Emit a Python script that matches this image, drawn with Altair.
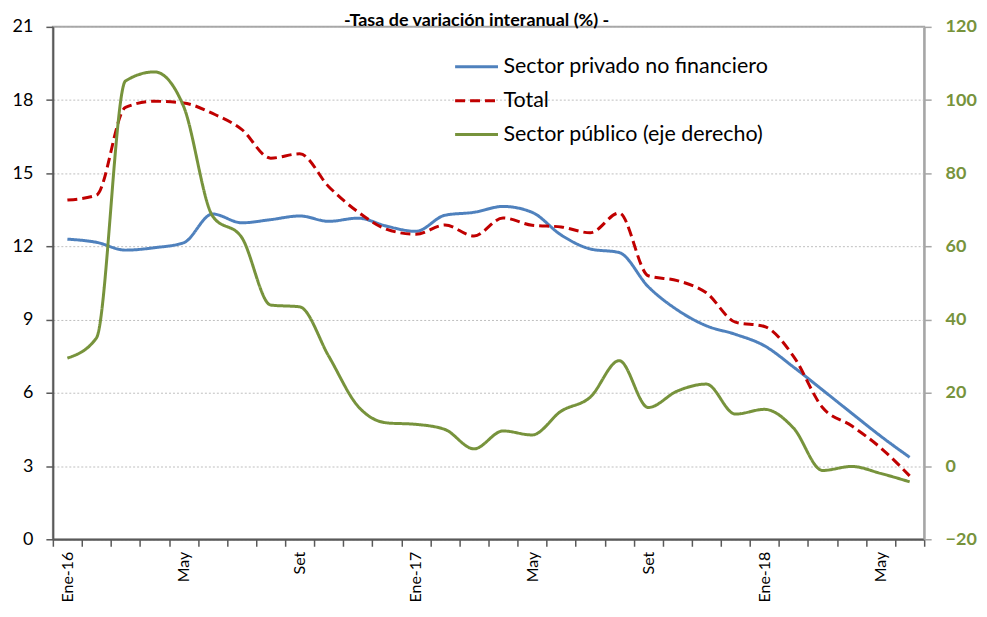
import json
import altair as alt
import pandas as pd

# ---- data ----
meses = [
    "Ene-16", "Feb-16", "Mar-16", "Abr-16", "May-16", "Jun-16", "Jul-16", "Ago-16", "Set-16", "Oct-16", "Nov-16", "Dic-16",
    "Ene-17", "Feb-17", "Mar-17", "Abr-17", "May-17", "Jun-17", "Jul-17", "Ago-17", "Set-17", "Oct-17", "Nov-17", "Dic-17",
    "Ene-18", "Feb-18", "Mar-18", "Abr-18", "May-18", "Jun-18",
]
etiquetas = [
    "Ene-16", "", "", "", "May", "", "", "", "Set", "", "", "",
    "Ene-17", "", "", "", "May", "", "", "", "Set", "", "", "",
    "Ene-18", "", "", "", "May", "",
]
privado = [12.30, 12.17, 11.85, 11.95, 12.15, 13.33, 12.97, 13.10, 13.25, 13.03,
           13.16, 12.83, 12.62, 13.28, 13.40, 13.64, 13.40, 12.47, 11.90, 11.75,
           10.35, 9.40, 8.75, 8.40, 7.93, 7.06, 6.12, 5.17, 4.23, 3.36]
total = [13.90, 14.10, 17.70, 17.95, 17.88, 17.45, 16.80, 15.62, 15.80, 14.45,
         13.42, 12.70, 12.50, 12.88, 12.43, 13.17, 12.87, 12.80, 12.56, 13.37,
         10.80, 10.60, 10.10, 8.90, 8.72, 7.50, 5.40, 4.65, 3.75, 2.60]
publico = [29.5, 35.0, 105.2, 107.7, 98.3, 68.3, 62.5, 44.0, 43.5, 30.0,
           16.4, 11.8, 11.4, 10.0, 4.7, 9.6, 8.5, 15.0, 18.8, 28.8,
           16.0, 20.5, 22.4, 14.2, 15.5, 10.4, -1.2, -0.1, -2.0, -4.3]

series = ["Sector privado no financiero", "Total", "Sector público (eje derecho)"]
colores = ["#4F81BD", "#C00000", "#77933C"]
trazos = [[1, 0], [10, 5], [1, 0]]
titulo = "-Tasa de variación interanual (%) -"

izq = pd.DataFrame({
    "mes": meses * 2,
    "serie": [series[0]] * len(meses) + [series[1]] * len(meses),
    "valor": privado + total,
})
der = pd.DataFrame({"mes": meses, "serie": series[2], "valor": publico})

FONT = "Lato"

label_expr = (
    f"indexof({json.dumps(meses)}, datum.value) >= 0 ? "
    f"{json.dumps(etiquetas)}[indexof({json.dumps(meses)}, datum.value)] : ''"
)

x_enc = alt.X(
    "mes:O", sort=meses,
    scale=alt.Scale(type="band", paddingInner=0, paddingOuter=0),
    axis=alt.Axis(
        title=None, tickBand="extent", labelExpr=label_expr, labelAngle=-90,
        labelFontSize=16, labelFont=FONT, labelColor="black", labelPadding=5,
        tickSize=7, tickColor="#595959", tickWidth=1.5,
        domainColor="#595959", domainWidth=2, grid=False,
    ),
)

leg = alt.Legend(
    title=None, orient="none", legendX=402, legendY=17,
    symbolType="stroke", symbolSize=1849, symbolStrokeWidth=3,
    labelFontSize=21.5, labelFont=FONT, labelColor="black", labelOffset=4,
    rowPadding=-12, padding=0, labelLimit=400,
)
color_enc = alt.Color("serie:N", scale=alt.Scale(domain=series, range=colores), legend=leg)
dash_enc = alt.StrokeDash("serie:N", scale=alt.Scale(domain=series, range=trazos), legend=leg)

left = alt.Chart(izq).mark_line(strokeWidth=3, interpolate="monotone").encode(
    x=x_enc,
    y=alt.Y(
        "valor:Q", scale=alt.Scale(domain=[0, 21], nice=False, zero=False),
        axis=alt.Axis(
            title=None, values=list(range(0, 22, 3)),
            labelFontSize=18, labelFont=FONT, labelColor="black", labelPadding=13,
            tickSize=7, tickColor="#595959", tickWidth=1.5,
            domainColor="#595959", domainWidth=2,
            grid=True, gridColor="#BFBFBF", gridDash=[2, 2], gridWidth=1,
        ),
    ),
    color=color_enc,
    strokeDash=dash_enc,
)

right = alt.Chart(der).mark_line(strokeWidth=3, interpolate="monotone").encode(
    x=x_enc,
    y=alt.Y(
        "valor:Q", scale=alt.Scale(domain=[-20, 120], nice=False, zero=False),
        axis=alt.Axis(
            title=None, orient="right", values=list(range(-20, 121, 20)),
            labelFontSize=18, labelFont=FONT, labelFontWeight="bold",
            labelColor="#77933C", labelPadding=14,
            tickSize=7, tickColor="#A6A6A6", tickWidth=1.5,
            domainColor="#A6A6A6", domainWidth=2, grid=False,
        ),
    ),
    color=color_enc,
    strokeDash=dash_enc,
)

chart = (
    alt.layer(left, right)
    .resolve_scale(y="independent")
    .properties(
        width=874, height=514,
        autosize=alt.AutoSizeParams(type="none"),
        padding={"left": 45, "top": 18, "right": 55, "bottom": 63},
        title=alt.TitleParams(
            text=titulo, fontSize=18, font=FONT, fontWeight="bold", color="black",
            anchor="middle", offset=0, dy=12, dx=-12,
        ),
    )
    .configure_view(stroke="#A6A6A6", strokeWidth=2)
)

chart.save("out.html", embed_options={"renderer": "svg", "actions": False})
